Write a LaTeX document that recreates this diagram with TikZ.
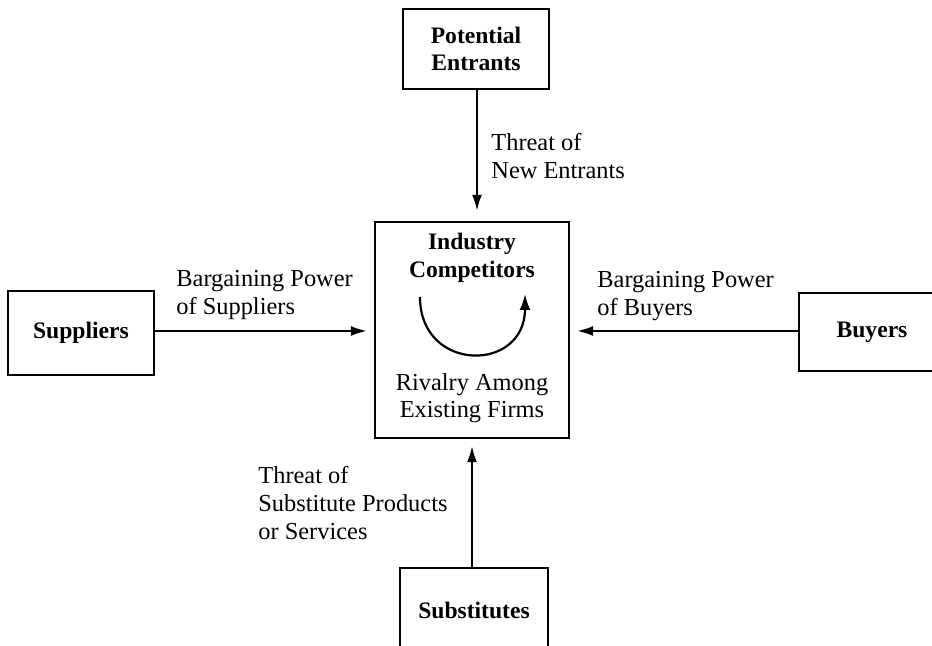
\documentclass[tikz,border=0pt]{standalone}
\usepackage{fontspec}
\setmainfont{Liberation Serif}
\usetikzlibrary{arrows.meta}

\begin{document}
\begin{tikzpicture}[x=0.5pt, y=-0.5pt]
	\tikzstyle{forcebox} = [draw, rectangle, line width=1.2pt, inner sep=0pt, align=center, font=\fontsize{11.8}{13.8}\selectfont\bfseries]
	\tikzstyle{forcetext} = [inner sep=0pt, align=left, anchor=west, font=\fontsize{12.2}{13.8}\selectfont]
	\tikzstyle{pressure} = [-{Latex[length=8pt, width=5pt]}, line width=1pt, shorten >=3.5pt]
	\useasboundingbox (0,0) rectangle (932,646);
	\clip (0,0) rectangle (932,646);
	% the five forces
	\node[forcebox, minimum width=73pt, minimum height=40pt] (Entrants) at (476,49) {Potential\\Entrants};
	\node[forcebox, minimum width=97pt, minimum height=108pt] (Rivalry) at (472,330) {};
	\node[forcebox, minimum width=73pt, minimum height=42pt] (Suppliers) at (81,333) {Suppliers};
	\node[forcebox, minimum width=73pt, minimum height=39pt] (Buyers) at (872,332) {Buyers};
	\node[forcebox, minimum width=74pt, minimum height=42pt] (Substitutes) at (474,610) {Substitutes};
	% inside the industry box
	\node[inner sep=0pt, align=center, font=\fontsize{11.8}{13.8}\selectfont\bfseries] (Competitors) at (472,258) {Industry\\Competitors};
	\node[inner sep=0pt, align=center, font=\fontsize{12.2}{13.8}\selectfont] (Firms) at (472,398) {Rivalry Among\\Existing Firms};
	\coordinate (ArcStart) at (420,297);
	\coordinate (ArcEnd) at (525,294);
	\draw [-{Latex[length=8pt, width=5.5pt]}, line width=1.1pt] (ArcStart) .. controls (420,373) and (525,373) .. (ArcEnd);
	% arrows
	\draw [pressure, shorten >=5pt] (Entrants.south -| 477,0)--(Rivalry.north -| 477,0);
	\draw [pressure] (Suppliers.east |- 0,331)--(Rivalry.west |- 0,331);
	\draw [pressure] (Buyers.west |- 0,331)--(Rivalry.east |- 0,331);
	\draw [pressure] (Substitutes.north -| 472,0)--(Rivalry.south -| 472,0);
	% arrow labels
	\node[forcetext] (NewEntrants) at (491,156) {Threat of\\New Entrants};
	\node[forcetext] (SupplierPower) at (176,295) {Bargaining Power\\of Suppliers};
	\node[forcetext] (BuyerPower) at (597,296) {Bargaining Power\\of Buyers};
	\node[forcetext] (SubstituteThreat) at (258,503) {Threat of\\Substitute Products\\or Services};
\end{tikzpicture}
\end{document}
